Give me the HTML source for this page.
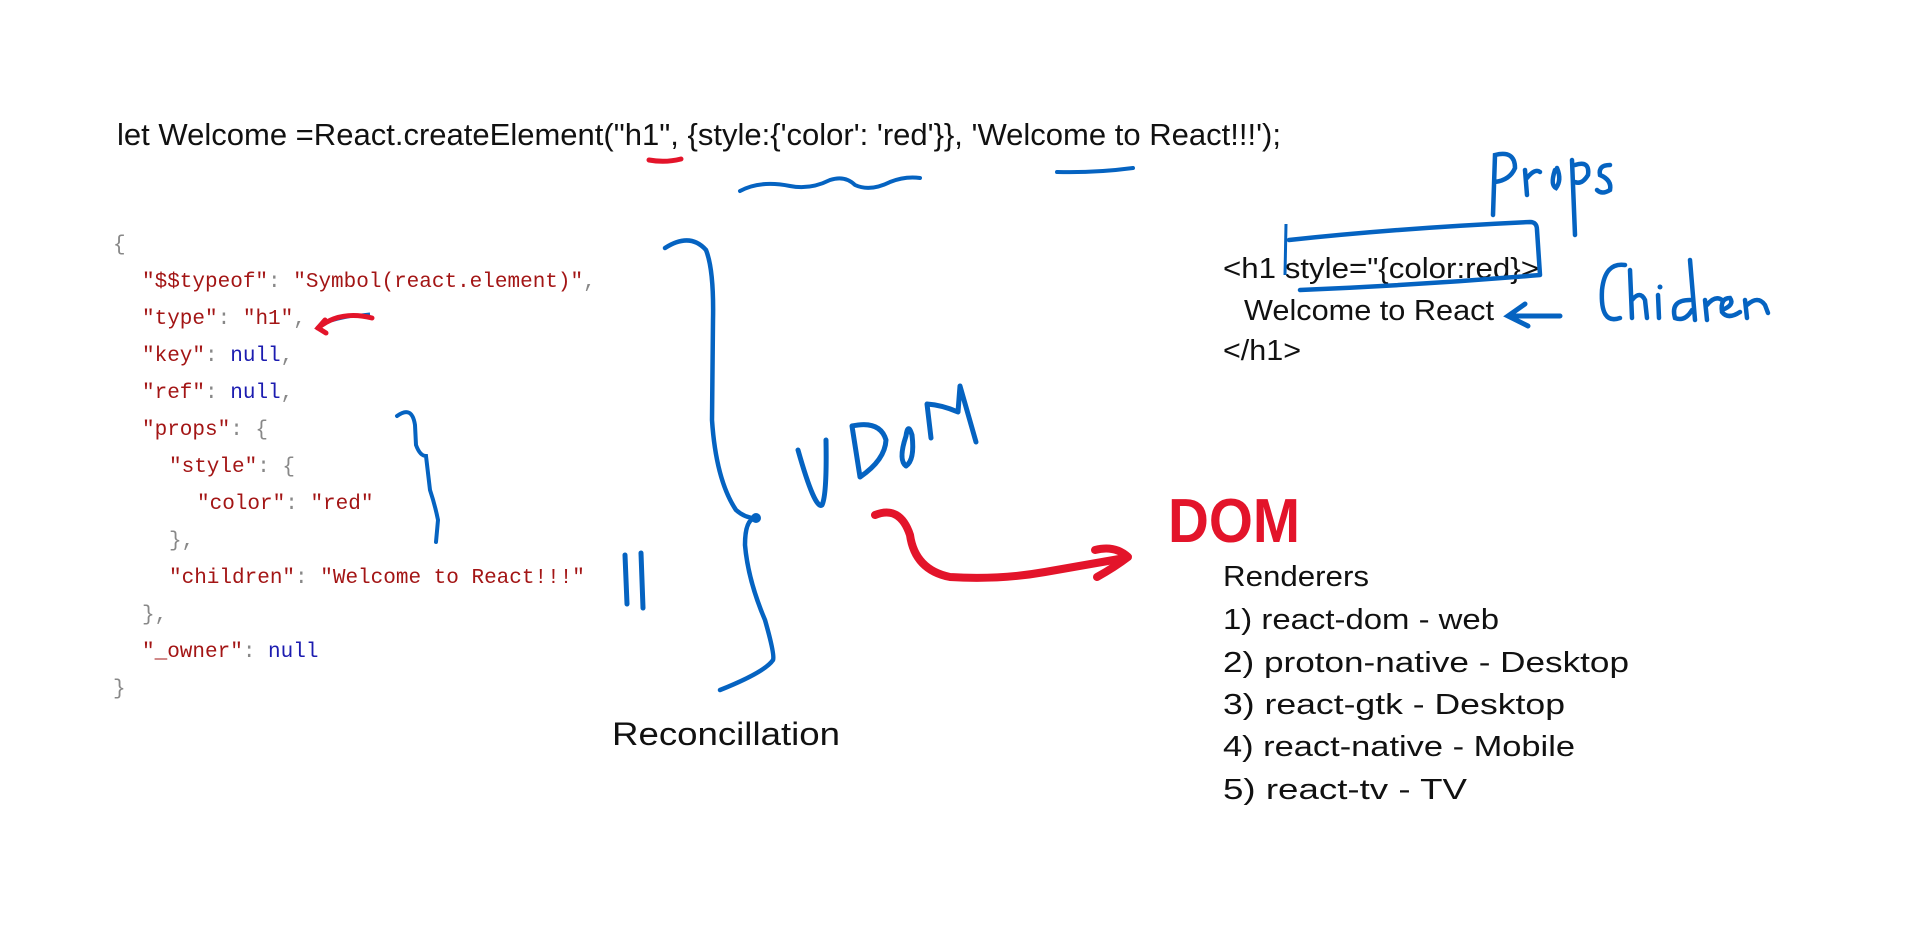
<!DOCTYPE html>
<html><head><meta charset="utf-8"><style>
html,body{margin:0;padding:0;background:#fff;}
svg{display:block;}
.hw{font-family:"Liberation Sans Narrow","Liberation Sans",sans-serif;fill:#111;}
.code{font-family:"Liberation Mono",monospace;font-size:21px;}
.k{fill:#a31515;} .s{fill:#a31515;} .p{fill:#888;} .n{fill:#1c1cb0;}
</style></head><body>
<svg width="1931" height="927" viewBox="0 0 1931 927" xmlns="http://www.w3.org/2000/svg">
<text class="hw" x="117" y="145" font-size="31" textLength="1164" lengthAdjust="spacingAndGlyphs">let Welcome =React.createElement("h1", {style:{'color': 'red'}}, 'Welcome to React!!!');</text>
<path d="M649 160 Q665 163 681 159" stroke="#e3142a" stroke-width="5" fill="none" stroke-linecap="round"/>
<path d="M740 191 Q760 180 790 186 Q810 190 830 180 Q845 175 855 185 Q870 192 890 182 Q905 176 920 178" stroke="#0563c1" stroke-width="4" fill="none" stroke-linecap="round"/>
<path d="M1057 172 Q1095 173 1133 168" stroke="#0563c1" stroke-width="4" fill="none" stroke-linecap="round"/>

<g class="code">
<text x="113" y="250" class="p">{</text>
<text x="142" y="287"><tspan class="k">"$$typeof"</tspan><tspan class="p">: </tspan><tspan class="s">"Symbol(react.element)"</tspan><tspan class="p">,</tspan></text>
<text x="142" y="324"><tspan class="k">"type"</tspan><tspan class="p">: </tspan><tspan class="s">"h1"</tspan><tspan class="p">,</tspan></text>
<text x="142" y="361"><tspan class="k">"key"</tspan><tspan class="p">: </tspan><tspan class="n">null</tspan><tspan class="p">,</tspan></text>
<text x="142" y="398"><tspan class="k">"ref"</tspan><tspan class="p">: </tspan><tspan class="n">null</tspan><tspan class="p">,</tspan></text>
<text x="142" y="435"><tspan class="k">"props"</tspan><tspan class="p">: {</tspan></text>
<text x="169" y="472"><tspan class="k">"style"</tspan><tspan class="p">: {</tspan></text>
<text x="197" y="509"><tspan class="k">"color"</tspan><tspan class="p">: </tspan><tspan class="s">"red"</tspan></text>
<text x="169" y="546" class="p">},</text>
<text x="169" y="583"><tspan class="k">"children"</tspan><tspan class="p">: </tspan><tspan class="s">"Welcome to React!!!"</tspan></text>
<text x="142" y="620" class="p">},</text>
<text x="142" y="657"><tspan class="k">"_owner"</tspan><tspan class="p">: </tspan><tspan class="n">null</tspan></text>
<text x="113" y="694" class="p">}</text>
</g>
<path d="M318 327 Q330 318 370 314" stroke="#0563c1" stroke-width="3" fill="none"/>
<path d="M318 328 Q340 310 372 318" stroke="#e3142a" stroke-width="5" fill="none" stroke-linecap="round"/>
<path d="M325 320 L318 328 L326 333" stroke="#e3142a" stroke-width="5" fill="none" stroke-linecap="round"/>

<path d="M397 416 Q412 405 415 425 L416 445 Q420 456 426 456 L430 490 Q435 505 438 520 L436 542" stroke="#0563c1" stroke-width="4" fill="none" stroke-linecap="round"/>
<path d="M625 555 L627 604 M641 553 L643 608" stroke="#0563c1" stroke-width="5" fill="none" stroke-linecap="round"/>

<path d="M665 248 Q690 232 706 250 Q714 270 713 320 L712 420 Q716 480 736 510 Q745 518 755 518 Q745 520 745 545 Q748 580 765 620 Q775 655 773 660 Q765 672 720 690" stroke="#0563c1" stroke-width="4.5" fill="none" stroke-linecap="round"/>
<circle cx="756" cy="518" r="5" fill="#0563c1"/>

<g stroke="#0563c1" stroke-width="5" fill="none" stroke-linecap="round" stroke-linejoin="round">
<path d="M798 450 Q815 510 822 505 Q827 495 826 440"/>
<path d="M852 426 L860 477 Q885 460 886 440 Q880 420 852 426"/>
<path d="M906 436 Q898 460 906 466 Q915 460 912 435 Q908 422 906 436"/>
<path d="M931 438 L927 404 Q942 405 958 412 L960 386 L976 442"/>
</g>

<path d="M875 515 Q900 505 910 535 Q915 570 950 577 Q1000 580 1045 572 L1125 558" stroke="#e3142a" stroke-width="8" fill="none" stroke-linecap="round"/>
<path d="M1095 550 Q1115 545 1128 557 Q1115 567 1097 577" stroke="#e3142a" stroke-width="8" fill="none" stroke-linecap="round" stroke-linejoin="round"/>
<text x="1168" y="542" font-family="Liberation Sans" font-weight="bold" font-size="62" fill="#e3142a" textLength="132" lengthAdjust="spacingAndGlyphs">DOM</text>

<text class="hw" x="612" y="745" font-size="32" textLength="228" lengthAdjust="spacingAndGlyphs">Reconcillation</text>

<g class="hw" font-size="29">
<text x="1223" y="586" textLength="146" lengthAdjust="spacingAndGlyphs">Renderers</text>
<text x="1223" y="629" textLength="276" lengthAdjust="spacingAndGlyphs">1) react-dom - web</text>
<text x="1223" y="672" textLength="406" lengthAdjust="spacingAndGlyphs">2) proton-native  - Desktop</text>
<text x="1223" y="714" textLength="342" lengthAdjust="spacingAndGlyphs">3) react-gtk - Desktop</text>
<text x="1223" y="756" textLength="352" lengthAdjust="spacingAndGlyphs">4) react-native - Mobile</text>
<text x="1223" y="799" textLength="244" lengthAdjust="spacingAndGlyphs">5) react-tv - TV</text>
</g>

<g class="hw" font-size="29">
<text x="1223" y="278" textLength="316" lengthAdjust="spacingAndGlyphs">&lt;h1 style="{color:red}&gt;</text>
<text x="1244" y="320" textLength="250" lengthAdjust="spacingAndGlyphs">Welcome to React</text>
<text x="1223" y="360" textLength="78" lengthAdjust="spacingAndGlyphs">&lt;/h1&gt;</text>
</g>
<path d="M1286 224 L1285 275" stroke="#0563c1" stroke-width="3" fill="none"/>
<path d="M1289 240 Q1400 228 1530 222 Q1537 222 1537 230 L1540 275 Q1420 285 1300 290" stroke="#0563c1" stroke-width="4.5" fill="none" stroke-linecap="round" stroke-linejoin="round"/>
<path d="M1560 316 L1512 316 M1525 304 L1508 316 L1528 326" stroke="#0563c1" stroke-width="5" fill="none" stroke-linecap="round"/>

<g stroke="#0563c1" stroke-width="4.5" fill="none" stroke-linecap="round">
<path d="M1493 215 L1495 155 Q1515 150 1515 168 Q1510 180 1495 182"/>
<path d="M1525 170 L1527 195 M1527 178 Q1535 168 1540 172"/>
<path d="M1555 170 Q1550 185 1556 188 Q1562 180 1557 168"/>
<path d="M1572 160 L1575 235 M1575 165 Q1590 160 1588 175 Q1582 185 1575 182"/>
<path d="M1610 165 Q1598 165 1600 175 Q1612 180 1610 190 Q1602 195 1597 190"/>
<path d="M1625 265 Q1605 262 1602 290 Q1600 325 1620 318"/>
<path d="M1630 270 L1632 318 M1632 300 Q1640 290 1645 300 L1647 318"/>
<path d="M1658 295 L1659 318"/>
<path d="M1690 300 Q1670 300 1675 318 Q1685 322 1692 310 M1690 260 L1695 320"/>
<path d="M1705 300 L1707 320 M1707 305 Q1715 295 1722 300"/>
<path d="M1722 310 Q1735 305 1730 298 Q1720 298 1722 312 Q1728 320 1740 312"/>
<path d="M1745 300 L1747 318 M1747 305 Q1758 295 1765 305 L1768 313"/>
</g>
<circle cx="1660" cy="287" r="2.5" fill="#0563c1"/>
</svg>
</body></html>
